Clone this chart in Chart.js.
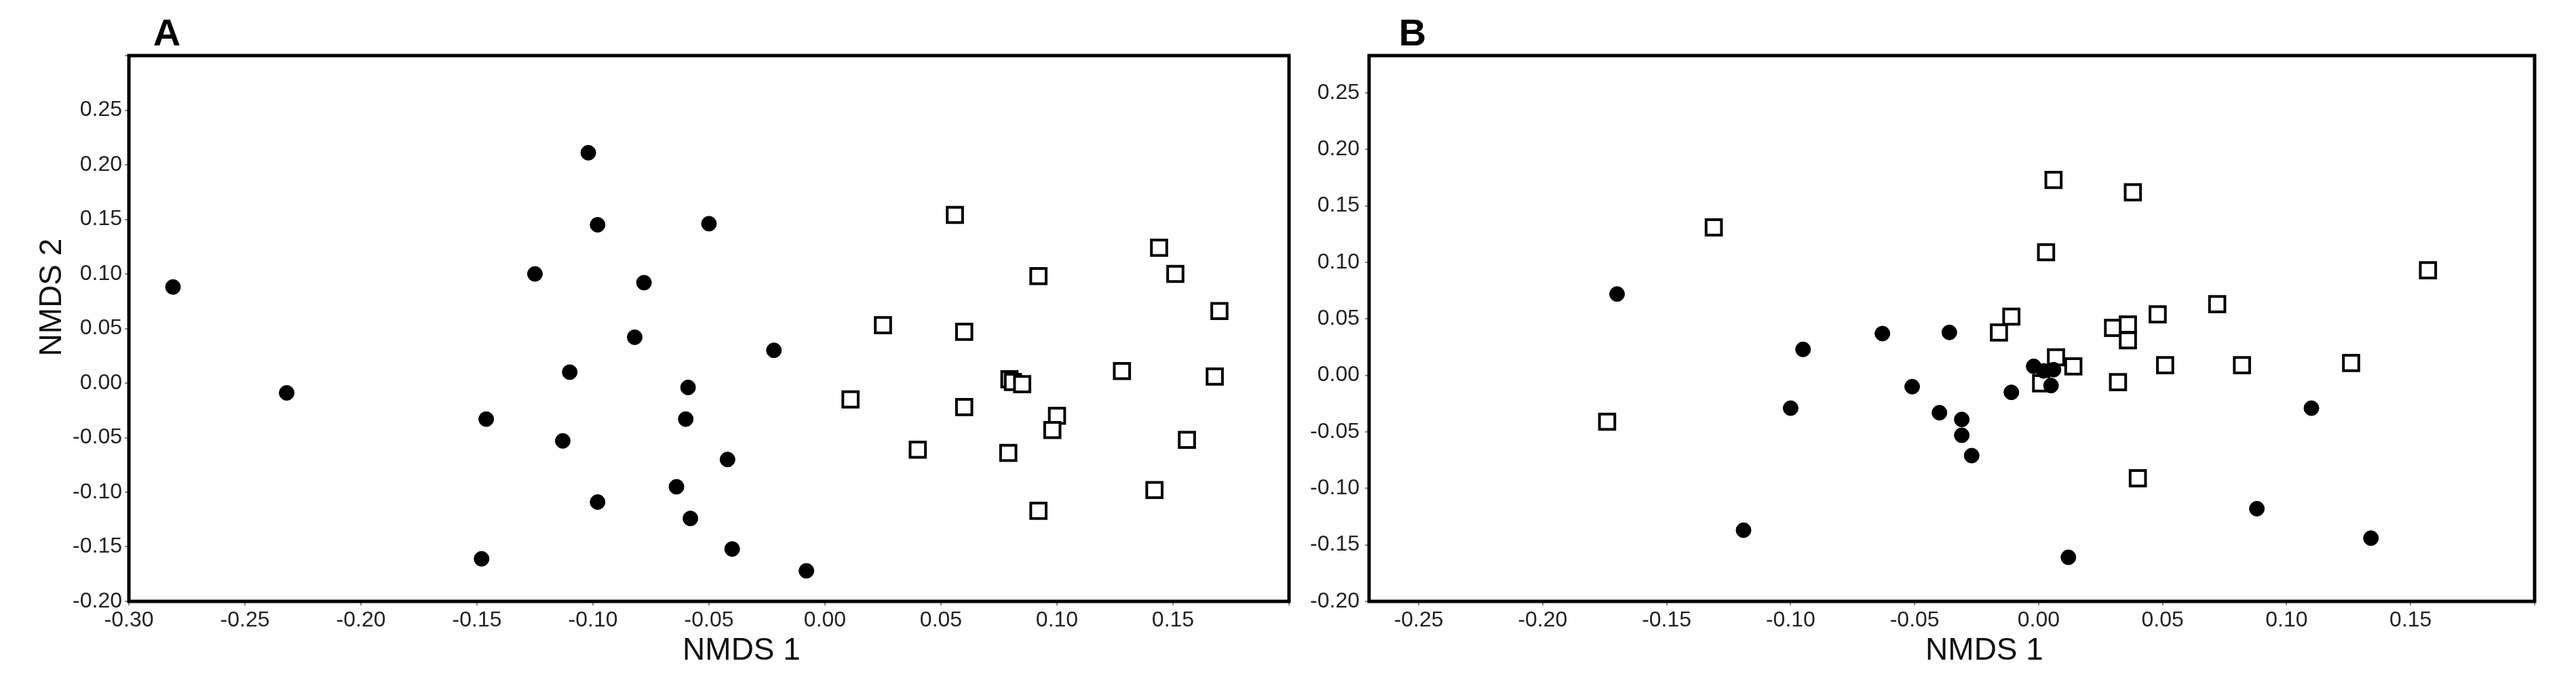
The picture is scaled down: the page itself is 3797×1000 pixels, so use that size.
<!DOCTYPE html>
<html>
<head>
<meta charset="utf-8">
<script src="https://cdn.jsdelivr.net/npm/chart.js@4.4.1/dist/chart.umd.min.js"></script>
<style>
  html, body { margin: 0; padding: 0; background: #fff; }
  #wrap { position: relative; width: 3797px; height: 1000px; background: #fff; }
  canvas { position: absolute; top: 0; }
  #cA { left: 0; }
  #cB { left: 1920px; }
</style>
</head>
<body>
<div id="wrap">
  <canvas id="cA" width="1920" height="1000"></canvas>
  <canvas id="cB" width="1877" height="1000"></canvas>
</div>
<script>
// ---------- Panel A data ----------
const aCircleX = [-0.281, -0.232, -0.102, -0.098, -0.050, -0.125, -0.078, -0.082, -0.022, -0.110, -0.059, -0.146, -0.060, -0.113, -0.042, -0.064, -0.098, -0.058, -0.040, -0.148, -0.008];
const aCircleY = [0.088, -0.009, 0.211, 0.145, 0.146, 0.100, 0.092, 0.042, 0.030, 0.010, -0.004, -0.033, -0.033, -0.053, -0.070, -0.095, -0.109, -0.124, -0.152, -0.161, -0.172];
const aSquareX = [0.056, 0.144, 0.092, 0.151, 0.170, 0.025, 0.060, 0.128, 0.168, 0.0795, 0.081, 0.085, 0.011, 0.060, 0.100, 0.098, 0.156, 0.040, 0.079, 0.142, 0.092];
const aSquareY = [0.154, 0.124, 0.098, 0.100, 0.066, 0.053, 0.047, 0.011, 0.006, 0.0035, 0.001, -0.001, -0.015, -0.022, -0.030, -0.043, -0.052, -0.061, -0.064, -0.098, -0.117];

// ---------- Panel B data ----------
const bCircleX = [-0.170, -0.063, -0.036, -0.095, -0.002, 0.002, 0.006, 0.005, -0.051, -0.011, -0.100, -0.040, -0.031, -0.031, -0.027, -0.119, 0.012, 0.110, 0.088, 0.134];
const bCircleY = [0.072, 0.037, 0.038, 0.023, 0.008, 0.004, 0.005, -0.009, -0.010, -0.015, -0.029, -0.033, -0.039, -0.053, -0.071, -0.137, -0.161, -0.029, -0.118, -0.144];
const bSquareX = [-0.174, -0.131, 0.006, 0.038, 0.003, -0.011, -0.016, 0.048, 0.030, 0.036, 0.036, 0.007, 0.014, 0.051, 0.001, 0.032, 0.040, 0.157, 0.072, 0.082, 0.126];
const bSquareY = [-0.041, 0.131, 0.173, 0.162, 0.109, 0.052, 0.038, 0.054, 0.042, 0.045, 0.031, 0.016, 0.008, 0.009, -0.007, -0.006, -0.091, 0.093, 0.063, 0.009, 0.011];

// ---------- Tick labels ----------
const xTickLabelsA = ['-0.30', '-0.25', '-0.20', '-0.15', '-0.10', '-0.05', '0.00', '0.05', '0.10', '0.15'];
const yTickLabelsA = ['-0.20', '-0.15', '-0.10', '-0.05', '0.00', '0.05', '0.10', '0.15', '0.20', '0.25'];
const xTickLabelsB = ['-0.25', '-0.20', '-0.15', '-0.10', '-0.05', '0.00', '0.05', '0.10', '0.15'];
const yTickLabelsB = ['-0.20', '-0.15', '-0.10', '-0.05', '0.00', '0.05', '0.10', '0.15', '0.20', '0.25'];

const FAMILY = '"Liberation Sans", Arial, Helvetica, sans-serif';

function fmt(v, list) {
  const s = Math.abs(v) < 1e-9 ? '0.00' : Number(v).toFixed(2);
  return list.includes(s) ? s : '';
}
function pts(xs, ys) { return xs.map((x, i) => ({ x: x, y: ys[i] })); }

const framePlugin = {
  id: 'frame',
  afterDraw(chart, args, o) {
    const ctx = chart.ctx, a = chart.chartArea;
    ctx.save();
    ctx.lineWidth = 5;
    ctx.strokeStyle = '#000';
    ctx.strokeRect(a.left, a.top, a.right - a.left, a.bottom - a.top);
    ctx.fillStyle = '#000';
    ctx.textAlign = 'center';
    ctx.textBaseline = 'middle';
    ctx.font = 'bold 56px ' + FAMILY;
    ctx.fillText(o.letter, a.left + o.letterDx, o.letterY);
    ctx.font = '46px ' + FAMILY;
    ctx.fillStyle = '#111';
    ctx.fillText('NMDS 1', (a.left + a.right) / 2 + 48, 960);
    if (o.yTitle) {
      ctx.translate(77, (a.top + a.bottom) / 2 - 46);
      ctx.rotate(-Math.PI / 2);
      ctx.fillText('NMDS 2', 0, 0);
    }
    ctx.restore();
  }
};

function makeChart(id, cfg) {
  const axisCommon = (list, pad) => ({
    ticks: {
      stepSize: 0.05, includeBounds: false, autoSkip: false, maxRotation: 0, minRotation: 0,
      font: { size: 32, family: FAMILY }, color: '#222', padding: pad,
      callback: (v) => fmt(v, list)
    },
    grid: { drawOnChartArea: false, drawTicks: true, tickLength: 6, color: '#888', lineWidth: 2 },
    border: { display: false }
  });
  const xAxis = Object.assign({ type: 'linear', position: 'bottom', min: cfg.xMin, max: cfg.xMax,
    afterFit(s) { s.height = 113; } }, axisCommon(cfg.xTicks, 3));
  const yAxis = Object.assign({ type: 'linear', position: 'left', min: cfg.yMin, max: cfg.yMax,
    afterFit(s) { s.width = cfg.yWidth; } }, axisCommon(cfg.yTicks, cfg.yPad));
  return new Chart(document.getElementById(id), {
    type: 'scatter',
    data: {
      datasets: [
        { label: 'circles', data: cfg.circles, pointStyle: 'circle', pointRadius: 11, pointHoverRadius: 11,
          backgroundColor: '#000', borderColor: '#000', borderWidth: 1 },
        { label: 'squares', data: cfg.squares, pointStyle: 'rect', pointRadius: 16, pointHoverRadius: 16,
          backgroundColor: '#fff', borderColor: '#000', borderWidth: 4 }
      ]
    },
    options: {
      responsive: false, animation: false, devicePixelRatio: 1,
      layout: { padding: { left: 0, top: 82, right: cfg.rightPad, bottom: 0 } },
      plugins: { legend: { display: false }, tooltip: { enabled: false }, title: { display: false },
        frame: { letter: cfg.letter, letterDx: cfg.letterDx, letterY: 52, yTitle: cfg.yTitle } },
      scales: { x: xAxis, y: yAxis }
    },
    plugins: [framePlugin]
  });
}

makeChart('cA', {
  circles: pts(aCircleX, aCircleY), squares: pts(aSquareX, aSquareY),
  xMin: -0.30, xMax: 0.20, yMin: -0.20, yMax: 0.30,
  xTicks: xTickLabelsA, yTicks: yTickLabelsA,
  yWidth: 190, yPad: 4, rightPad: 12, letter: 'A', letterDx: 56, yTitle: true
});
makeChart('cB', {
  circles: pts(bCircleX, bCircleY), squares: pts(bSquareX, bSquareY),
  xMin: -0.27, xMax: 0.20, yMin: -0.20, yMax: 0.283,
  xTicks: xTickLabelsB, yTicks: yTickLabelsB,
  yWidth: 98, yPad: 8, rightPad: 61, letter: 'B', letterDx: 64, yTitle: false
});
</script>
</body>
</html>
